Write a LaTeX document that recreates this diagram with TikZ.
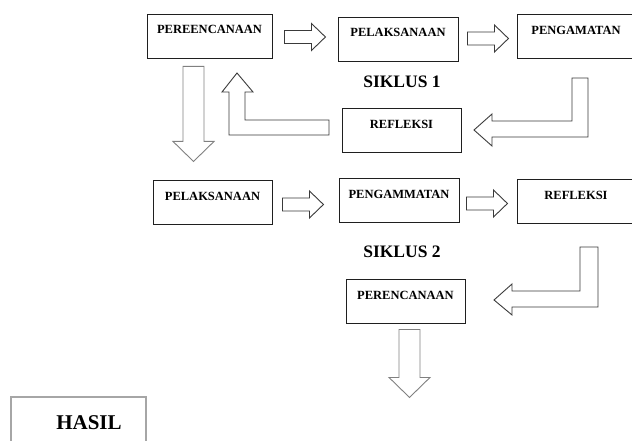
\documentclass[tikz,border=0pt]{standalone}
\usepackage{fontspec}
\setmainfont{Liberation Serif}
\usetikzlibrary{calc}
\definecolor{ink}{HTML}{1F1F1F}
\definecolor{arrowgrey}{HTML}{3A3A3A}
\definecolor{lightgrey}{HTML}{808080}
\definecolor{framegrey}{HTML}{A6A6A6}
\tikzset{
  stage/.style={draw=ink, fill=white, line width=.9pt, inner sep=0pt,
    minimum width=120pt, text height=20pt, text depth=24pt,
    font=\fontsize{12.5}{14}\selectfont\bfseries},
  resultbox/.style={draw=framegrey, line width=2pt, inner sep=0pt,
    minimum width=135pt, text height=32pt, text depth=28pt,
    font=\fontsize{21}{24}\selectfont\bfseries},
  cyclelabel/.style={anchor=base, inner sep=0pt,
    font=\fontsize{17.5}{20}\selectfont\bfseries},
  blockarrow/.style={draw=arrowgrey, fill=white, line width=.9pt, line join=miter},
  rightarrow/.pic={
    \draw[blockarrow] (0,-6.5) -- (27,-6.5) -- (27,-13.5) -- (41,0)
      -- (27,13.5) -- (27,6.5) -- (0,6.5) -- cycle;
  },
  downarrow/.pic={
    \draw[blockarrow, draw=lightgrey] (-10.5,0) -- (10.5,0) -- (10.5,#1)
      -- (20.5,#1) -- (0,#1+20) -- (-20.5,#1) -- (-10.5,#1) -- cycle;
  }
}

\begin{document}
\begin{tikzpicture}[x=1pt,y=-1pt]
\useasboundingbox (0,0) rectangle (632,441);
\clip (0,0) rectangle (632,441);

% first cycle
\node[stage, minimum width=125pt] (plan1) at (209.5,36) {PEREENCANAAN};
\node[stage] (act1) at (398,39) {PELAKSANAAN};
\node[stage, minimum width=118pt] (obs1) at (576,36.5) {PENGAMATAN};
\node[stage, minimum width=119pt] (refl1) at (401.5,130.5) {REFLEKSI};
\node[cyclelabel] (cycle1) at (402,88) {SIKLUS 1};

\pic at ([shift={(12,1)}]plan1.east) {rightarrow};
\pic at ([shift={(9,-0.5)}]act1.east) {rightarrow};

% obs1 -> refl1 (bent arrow)
\draw[blockarrow] (572,78) -- (588,78) -- (588,137) -- (492,137) -- (492,146)
  -- (474,130) -- (492,114) -- (492,121) -- (572,121) -- cycle;
% refl1 -> plan1 (bent arrow)
\draw[blockarrow] (237,73) -- (253,92) -- (245,92) -- (245,120) -- (329,120)
  -- (329,135) -- (229,135) -- (229,92) -- (222,92) -- cycle;

\pic at ([shift={(-16,8)}]plan1.south) {downarrow=75};

% second cycle
\node[stage, minimum width=119pt] (act2) at (212.5,202.5) {PELAKSANAAN};
\node[stage] (obs2) at (399,200) {PENGAMMATAN};
\node[stage, minimum width=118pt] (refl2) at (576,201) {REFLEKSI};
\node[stage, minimum width=119pt] (plan2) at (405.5,301) {PERENCANAAN};
\node[cyclelabel] (cycle2) at (402,257) {SIKLUS 2};

\pic at ([shift={(10,2)}]act2.east) {rightarrow};
\pic at ([shift={(7,3.5)}]obs2.east) {rightarrow};

% refl2 -> plan2 (bent arrow)
\draw[blockarrow] (580,247) -- (598,247) -- (598,307) -- (512,307) -- (512,315)
  -- (494,300) -- (512,284) -- (512,291) -- (580,291) -- cycle;

\pic at ([shift={(4,6)}]plan2.south) {downarrow=48};

% outcome
\node[resultbox] (result) at (78.5,427) {\hspace*{21pt}HASIL};

\end{tikzpicture}
\end{document}
